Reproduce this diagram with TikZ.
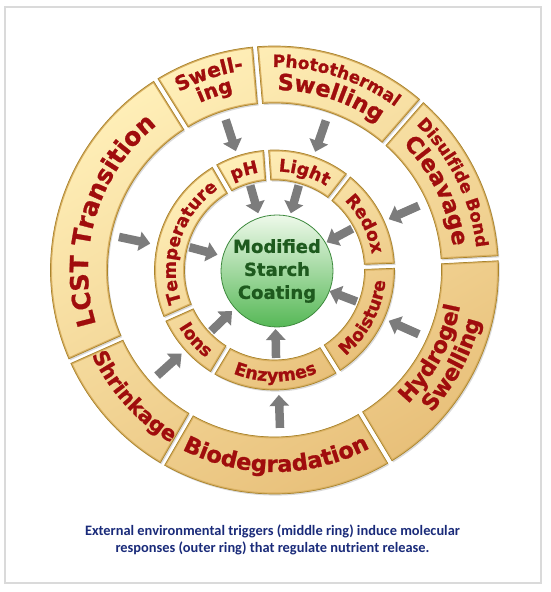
\documentclass[tikz,border=0pt]{standalone}
\usepackage{fontspec}
\setmainfont{DejaVu Sans}[BoldFeatures={FakeBold=1}]
\newfontfamily\capfont{Carlito}
\usetikzlibrary{decorations.text,arrows.meta}
\definecolor{tred}{HTML}{A00D0D}
\definecolor{tgreen}{HTML}{1E5A1E}
\definecolor{capblue}{HTML}{1A2B7A}
\definecolor{segtop}{HTML}{FFEFB8}
\definecolor{segbot}{HTML}{E8C07A}
\definecolor{segrim}{HTML}{DBB264}
\definecolor{segedge}{HTML}{A8842E}
\definecolor{arrowgray}{HTML}{7C7C7C}
\definecolor{framegray}{HTML}{DADADA}
\definecolor{ctop}{HTML}{EEF9EA}
\definecolor{cbot}{HTML}{56B856}
\definecolor{cline}{HTML}{3E8A3E}
\tikzset{
  garrow/.style={line width=8.5pt, draw=arrowgray, -{Triangle[width=19pt,length=11pt]}},
  segline/.style={draw=segedge, line width=0.7pt},
  coatstyle/.style={circle, minimum size=112pt, inner sep=0pt, draw=cline, line width=0.8pt,
    top color=ctop, bottom color=cbot},
  captext/.style={font=\capfont\bfseries\fontsize{14.4}{16.7}\selectfont, text=capblue, anchor=base, inner sep=0pt},
}
% #1 inner radius, #2 outer radius, #3 start angle, #4 end angle
\newcommand\ringseg[4]{%
  \pgfmathsetmacro\segOa{#3+143/#2}%
  \pgfmathsetmacro\segOb{#4-143/#2}%
  \pgfmathsetmacro\segIa{#3+143/#1}%
  \pgfmathsetmacro\segIb{#4-143/#1}%
  \def\segpath{(\segOa:#2) arc[start angle=\segOa,end angle=\segOb,radius=#2] -- (\segIb:#1) arc[start angle=\segIb,end angle=\segIa,radius=#1] -- cycle}%
  \fill[black,opacity=.15,shift={(1.2,-1.6)}] \segpath;
  \begin{scope}
    \clip \segpath;
    \shade[top color=segtop,bottom color=segbot,shading angle=30] (-#2,-#2) rectangle (#2,#2);
    \draw[segrim,line width=3pt] \segpath;
  \end{scope}
  \draw[segline] \segpath;
}
% #1 radius, #2 start angle, #3 end angle, #4 font size, #5 text
\newcommand\ringtext[5]{%
  \path[decorate,decoration={text along path,text align=center,text color=tred,
    text={|\fontsize{#4}{#4}\selectfont\bfseries|#5}}] (#2:#1) arc[start angle=#2,end angle=#3,radius=#1];
}
% #1 name, #2 angle, #3 start radius, #4 end radius
\newcommand\grayarrow[4]{%
  \coordinate (#1s) at (#2:#3);
  \coordinate (#1e) at (#2:#4);
  \draw[garrow] (#1s) -- (#1e);
}
\begin{document}
\begin{tikzpicture}[x=1pt,y=1pt]
\useasboundingbox (0,0) rectangle (550,592);
\fill[white] (0,0) rectangle (550,592);
\draw[framegray, line width=1.2pt] (5,9) rectangle (541,585);
\begin{scope}[shift={(274.5,322)}]
  % outer ring: responses
  \ringseg{167}{224}{122}{204}
  \ringseg{167}{224}{95}{122}
  \ringseg{167}{224}{49}{95}
  \ringseg{167}{224}{3}{49}
  \ringseg{167}{224}{-59}{3}
  \ringseg{167}{224}{240}{301}
  \ringseg{167}{224}{204}{240}
  % inner ring: triggers
  \ringseg{90}{120}{120}{204}
  \ringseg{90}{120}{94}{120}
  \ringseg{90}{120}{52}{94}
  \ringseg{90}{120}{2}{52}
  \ringseg{90}{120}{-58}{2}
  \ringseg{90}{120}{239}{302}
  \ringseg{90}{120}{204}{239}
  % outer texts
  \ringtext{186.5}{204}{122}{25}{LCST Transition}
  \ringtext{202}{122}{95}{20}{Swell-}
  \ringtext{183}{122}{95}{20}{ing}
  \ringtext{203}{95}{49}{17}{Photothermal}
  \ringtext{180}{95}{49}{22.5}{Swelling}
  \ringtext{203}{49}{3}{17}{Disulfide Bond}
  \ringtext{180}{49}{3}{22.5}{Cleavage}
  \ringtext{189}{-59}{3}{22}{Hydrogel}
  \ringtext{212}{-59}{3}{22}{Swelling}
  \ringtext{202}{240}{301}{22.5}{Biodegradation}
  \ringtext{201.5}{204}{240}{21}{Shrinkage}
  % inner texts
  \ringtext{98.6}{204}{120}{17.5}{Temperature}
  \ringtext{98.6}{120}{94}{17.5}{pH}
  \ringtext{98.6}{94}{52}{17.5}{Light}
  \ringtext{98.6}{52}{2}{17.5}{Redox}
  \ringtext{111.4}{-58}{2}{17.5}{Moisture}
  \ringtext{111.4}{239}{302}{17.5}{Enzymes}
  \ringtext{111.4}{204}{239}{17.5}{Ions}
  % arrows outer -> inner
  \grayarrow{aswell}{108}{158}{125}
  \grayarrow{aphoto}{71}{158}{125}
  \grayarrow{adisul}{24}{158}{125}
  \grayarrow{ahydro}{-24}{158}{125}
  \grayarrow{abiode}{-88}{158}{125}
  \grayarrow{ashrin}{222}{158}{125}
  \grayarrow{alcst}{168}{159}{127}
  % arrows inner -> core
  \grayarrow{aph}{106}{88}{59}
  \grayarrow{alight}{74}{88}{59}
  \grayarrow{aredox}{28}{88}{59}
  \grayarrow{amoist}{-21}{88}{59}
  \grayarrow{aenzym}{-89}{88}{59}
  \grayarrow{aions}{224}{88}{59}
  \grayarrow{atemp}{165}{88}{59}
  % core
  \node[coatstyle] (coat) at (2.5,-1) {};
  \node[font=\fontsize{18}{23}\selectfont\bfseries, text=tgreen, align=center, inner sep=0pt] (coattxt) at (coat.center) {Modified\\Starch\\Coating};
\end{scope}
\node[captext] (cap1) at (272.5,56) {External environmental triggers (middle ring) induce molecular};
\node[captext] (cap2) at (272.5,39.3) {responses (outer ring) that regulate nutrient release.};
\end{tikzpicture}
\end{document}
